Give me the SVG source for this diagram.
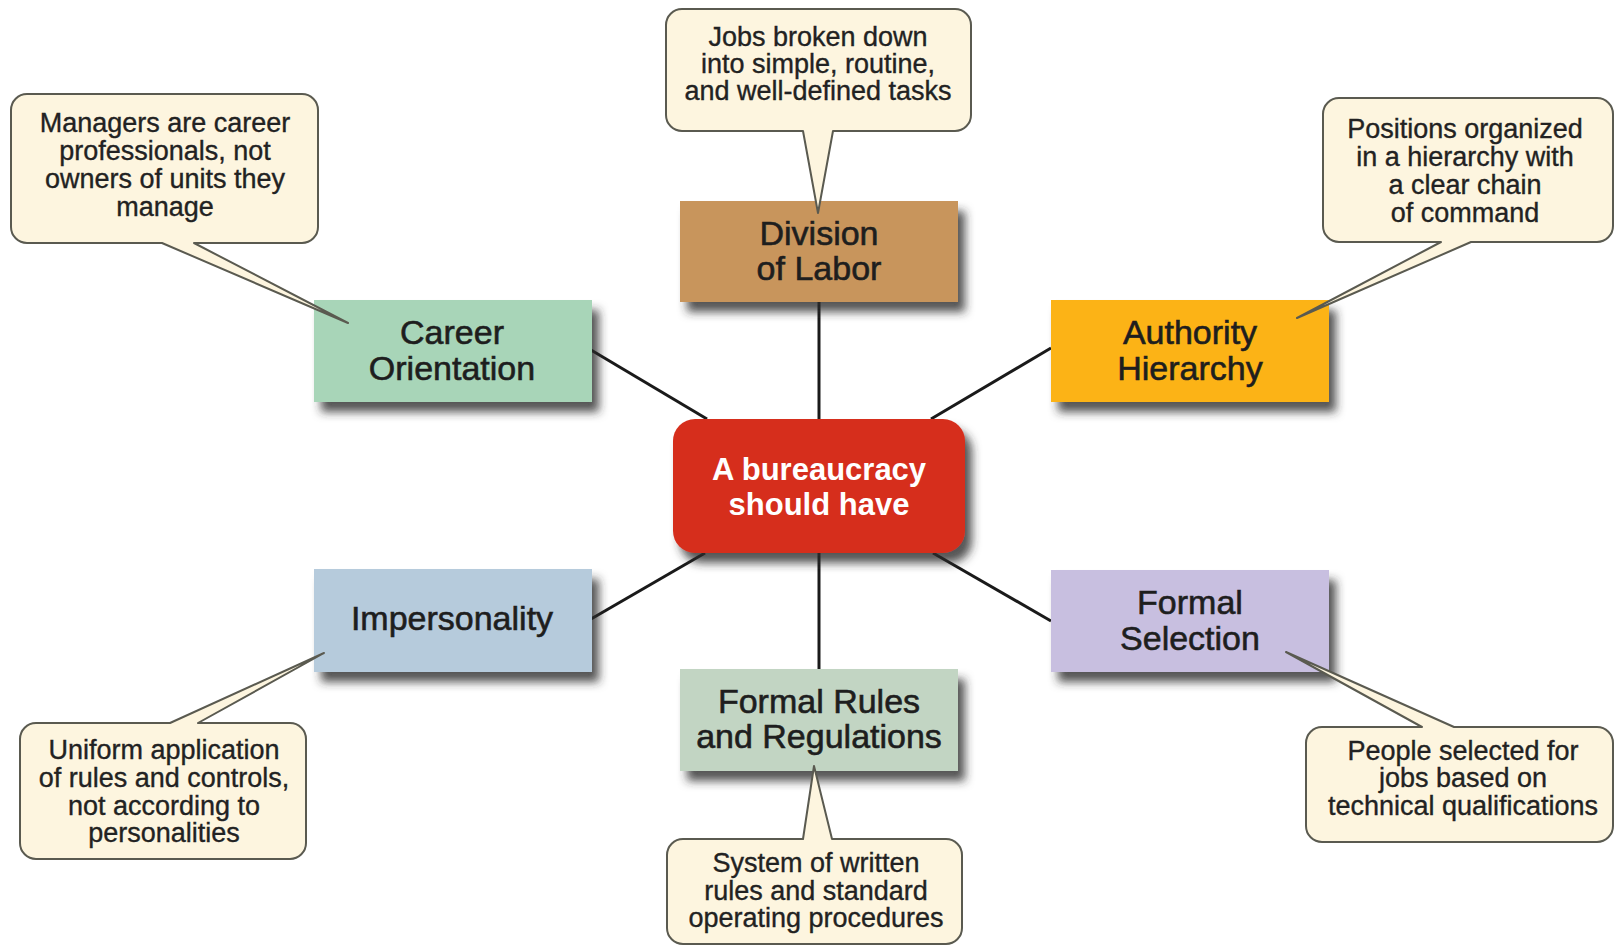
<svg xmlns="http://www.w3.org/2000/svg" width="1616" height="946" viewBox="0 0 1616 946">
<defs>
<filter id="sh" x="-10%" y="-10%" width="130%" height="145%">
<feGaussianBlur in="SourceAlpha" stdDeviation="5"/>
<feOffset dx="7" dy="10" result="b"/>
<feFlood flood-color="#2a2a2a" flood-opacity="0.8"/>
<feComposite in2="b" operator="in"/>
<feMerge><feMergeNode/><feMergeNode in="SourceGraphic"/></feMerge>
</filter>
</defs>
<style>
.node{filter:url(#sh)}
.nt{font-family:"Liberation Sans",Arial,sans-serif;font-size:34px;fill:#1e1e1e;stroke:#1e1e1e;stroke-width:0.6;text-anchor:middle}
.ct{font-family:"Liberation Sans",Arial,sans-serif;font-size:31px;font-weight:bold;fill:#ffffff;text-anchor:middle}
.co{fill:#fdf5df;stroke:#5a5a50;stroke-width:2;stroke-linejoin:round}
.cot{font-family:"Liberation Sans",Arial,sans-serif;font-size:27px;fill:#222;stroke:#222;stroke-width:0.35;text-anchor:middle}
.conn line{stroke:#1a1a1a;stroke-width:3}
</style>
<rect width="1616" height="946" fill="#ffffff"/>
<g id="connectors" class="conn">
<line x1="819" y1="302" x2="819" y2="419"/>
<line x1="819" y1="553" x2="819" y2="670"/>
<line x1="591" y1="350" x2="707" y2="419"/>
<line x1="1051" y1="348" x2="931" y2="419"/>
<line x1="591" y1="619" x2="705" y2="553"/>
<line x1="1051" y1="621" x2="933" y2="553"/>
</g>
<g id="center">
<rect class="node" x="673" y="419" width="292" height="134" rx="22" fill="#d62f1e"/>
<text class="ct" x="819" y="480">A bureaucracy</text>
<text class="ct" x="819" y="515">should have</text>
</g>
<g id="division">
<rect class="node" x="680" y="201" width="278" height="101" fill="#c8955b"/>
<text class="nt" x="819" y="245">Division</text>
<text class="nt" x="819" y="280">of Labor</text>
</g>
<g id="career">
<rect class="node" x="314" y="300" width="278" height="102" fill="#a8d5b8"/>
<text class="nt" x="452" y="344">Career</text>
<text class="nt" x="452" y="380">Orientation</text>
</g>
<g id="authority">
<rect class="node" x="1051" y="300" width="278" height="102" fill="#fcb316"/>
<text class="nt" x="1190" y="344">Authority</text>
<text class="nt" x="1190" y="380">Hierarchy</text>
</g>
<g id="impersonality">
<rect class="node" x="314" y="569" width="278" height="103" fill="#b6cbdc"/>
<text class="nt" x="452" y="630">Impersonality</text>
</g>
<g id="selection">
<rect class="node" x="1051" y="570" width="278" height="102" fill="#c8bfe0"/>
<text class="nt" x="1190" y="614">Formal</text>
<text class="nt" x="1190" y="650">Selection</text>
</g>
<g id="rules">
<rect class="node" x="680" y="669" width="278" height="102" fill="#c2d5c3"/>
<text class="nt" x="819" y="713">Formal Rules</text>
<text class="nt" x="819" y="748">and Regulations</text>
</g>
<g id="callout-division">
<path class="co" d="M682,9 H955 A16,16 0 0 1 971,25 V115 A16,16 0 0 1 955,131 H833 L818,213 L803,131 H682 A16,16 0 0 1 666,115 V25 A16,16 0 0 1 682,9 Z"/>
<text class="cot" x="818" y="46">Jobs broken down</text>
<text class="cot" x="818" y="73">into simple, routine,</text>
<text class="cot" x="818" y="100">and well-defined tasks</text>
</g>
<g id="callout-career">
<path class="co" d="M27,94 H302 A16,16 0 0 1 318,110 V227 A16,16 0 0 1 302,243 H194 L348,323 L162,243 H27 A16,16 0 0 1 11,227 V110 A16,16 0 0 1 27,94 Z"/>
<text class="cot" x="165" y="132">Managers are career</text>
<text class="cot" x="165" y="160">professionals, not</text>
<text class="cot" x="165" y="188">owners of units they</text>
<text class="cot" x="165" y="216">manage</text>
</g>
<g id="callout-authority">
<path class="co" d="M1339,98 H1597 A16,16 0 0 1 1613,114 V226 A16,16 0 0 1 1597,242 H1471 L1297,318 L1441,242 H1339 A16,16 0 0 1 1323,226 V114 A16,16 0 0 1 1339,98 Z"/>
<text class="cot" x="1465" y="138">Positions organized</text>
<text class="cot" x="1465" y="166">in a hierarchy with</text>
<text class="cot" x="1465" y="194">a clear chain</text>
<text class="cot" x="1465" y="222">of command</text>
</g>
<g id="callout-impersonality">
<path class="co" d="M36,723 H170 L324,653 L198,723 H290 A16,16 0 0 1 306,739 V843 A16,16 0 0 1 290,859 H36 A16,16 0 0 1 20,843 V739 A16,16 0 0 1 36,723 Z"/>
<text class="cot" x="164" y="759">Uniform application</text>
<text class="cot" x="164" y="787">of rules and controls,</text>
<text class="cot" x="164" y="815">not according to</text>
<text class="cot" x="164" y="842">personalities</text>
</g>
<g id="callout-selection">
<path class="co" d="M1322,727 H1422 L1286,652 L1454,727 H1597 A16,16 0 0 1 1613,743 V826 A16,16 0 0 1 1597,842 H1322 A16,16 0 0 1 1306,826 V743 A16,16 0 0 1 1322,727 Z"/>
<text class="cot" x="1463" y="760">People selected for</text>
<text class="cot" x="1463" y="787">jobs based on</text>
<text class="cot" x="1463" y="815">technical qualifications</text>
</g>
<g id="callout-rules">
<path class="co" d="M683,839 H803 L814,766 L832,839 H946 A16,16 0 0 1 962,855 V928 A16,16 0 0 1 946,944 H683 A16,16 0 0 1 667,928 V855 A16,16 0 0 1 683,839 Z"/>
<text class="cot" x="816" y="872">System of written</text>
<text class="cot" x="816" y="900">rules and standard</text>
<text class="cot" x="816" y="927">operating procedures</text>
</g>
</svg>
